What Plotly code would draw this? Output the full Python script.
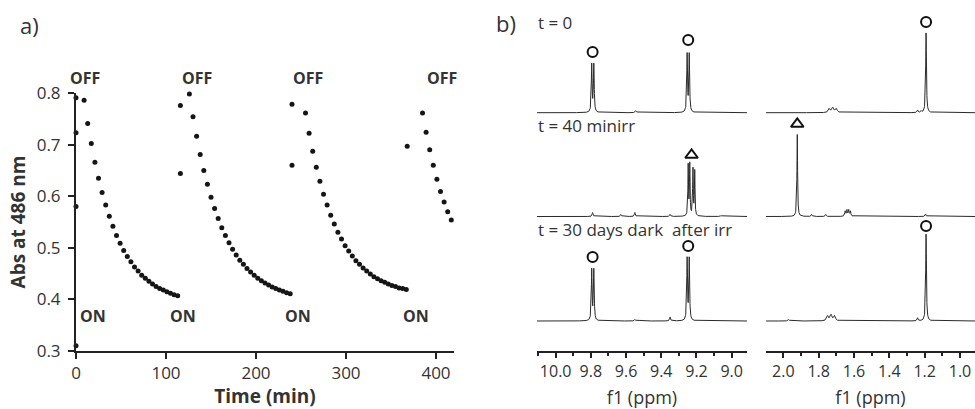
import numpy as np
import plotly.graph_objects as go

# ---------------- Panel a: absorbance at 486 nm vs time ----------------
c1_t = [0, 0, 0, 0, 9, 13, 17, 21, 25, 29, 33, 37, 41, 45, 49, 53, 57, 61, 65, 69,
        73, 77, 81, 85, 89, 93, 97, 101, 105, 109, 113]
c1_a = [0.791, 0.723, 0.580, 0.310, 0.786, 0.741, 0.702, 0.666, 0.635, 0.607, 0.583,
        0.561, 0.542, 0.524, 0.509, 0.495, 0.483, 0.473, 0.463, 0.455, 0.447, 0.441,
        0.435, 0.430, 0.425, 0.421, 0.418, 0.415, 0.412, 0.409, 0.407]
c2_t = [116, 116, 126, 130, 134, 138, 142, 146, 150, 154, 158, 162, 166, 170, 174, 178,
        182, 186, 190, 194, 198, 202, 206, 210, 214, 218, 222, 226, 230, 234, 238]
c2_a = [0.776, 0.644, 0.798, 0.754, 0.716, 0.681, 0.650, 0.623, 0.598, 0.576, 0.557,
        0.539, 0.524, 0.510, 0.497, 0.486, 0.476, 0.468, 0.460, 0.453, 0.447, 0.441,
        0.436, 0.432, 0.428, 0.424, 0.421, 0.418, 0.416, 0.413, 0.411]
c3_t = [240, 240, 255, 259, 263, 267, 271, 275, 279, 283, 287, 291, 295, 299, 303, 307,
        311, 315, 319, 323, 327, 331, 335, 339, 343, 347, 351, 355, 359, 363, 367]
c3_a = [0.778, 0.660, 0.761, 0.722, 0.687, 0.656, 0.629, 0.604, 0.583, 0.563, 0.546,
        0.530, 0.517, 0.504, 0.494, 0.484, 0.475, 0.468, 0.461, 0.455, 0.449, 0.444,
        0.440, 0.436, 0.433, 0.430, 0.427, 0.425, 0.422, 0.421, 0.419]
c4_t = [368, 385, 389, 393, 397, 401, 405, 409, 413, 417]
c4_a = [0.697, 0.761, 0.724, 0.690, 0.660, 0.633, 0.609, 0.589, 0.570, 0.554]

x_ticks_a = [0, 100, 200, 300, 400]
y_ticks_a = [0.3, 0.4, 0.5, 0.6, 0.7, 0.8]

off_labels_t = [10, 134, 258, 407]
on_labels_t = [19, 119, 247, 378]

# ---------------- Panel b: 1H NMR spectra (peak tables) ----------------
# (ppm, height, half width) ; heights in stacked-plot units
t0_left = [(9.795, 48, 0.0025), (9.783, 48, 0.0025), (9.253, 58, 0.0025),
           (9.241, 58, 0.0025), (9.545, 2, 0.004)]
t40_left = [(9.247, 51, 0.002), (9.238, 52, 0.002), (9.220, 47, 0.002),
            (9.210, 45, 0.002), (9.79, 4, 0.003), (9.63, 2, 0.003),
            (9.55, 4, 0.003), (9.35, 2, 0.003), (9.06, 1, 0.004)]
t30_left = [(9.795, 51, 0.0025), (9.783, 51, 0.0025), (9.253, 62, 0.0025),
            (9.241, 62, 0.0025), (9.35, 4, 0.003), (9.55, 1.5, 0.004)]
t0_right = [(1.192, 80, 0.0025), (1.74, 4, 0.006), (1.72, 5, 0.006),
            (1.70, 4, 0.006), (1.24, 2.5, 0.003), (1.22, 1.5, 0.003)]
t40_right = [(1.921, 82, 0.0022), (1.84, 2, 0.003), (1.76, 2, 0.003),
             (1.650, 5, 0.003), (1.640, 6, 0.003), (1.630, 6, 0.003),
             (1.620, 5, 0.003), (1.195, 2.5, 0.003)]
t30_right = [(1.192, 87, 0.0025), (1.75, 5, 0.006), (1.73, 6, 0.006),
             (1.71, 5, 0.006), (1.24, 3, 0.003), (1.97, 1.5, 0.004)]
spectrum_offsets = [238.3, 134.5, 30.0]  # t = 0, t = 40 min irr, t = 30 days

left_ticks = [10.0, 9.8, 9.6, 9.4, 9.2, 9.0]
right_ticks = [2.0, 1.8, 1.6, 1.4, 1.2, 1.0]

# peak markers: (axis, ppm, height, symbol)
peak_marks = [("x2", 9.79, 299, "circle-open"), ("x2", 9.247, 311, "circle-open"),
              ("x3", 1.192, 329, "circle-open"),
              ("x2", 9.228, 196, "triangle-up-open"), ("x3", 1.921, 227, "triangle-up-open"),
              ("x2", 9.79, 94, "circle-open"), ("x2", 9.247, 105, "circle-open"),
              ("x3", 1.192, 125, "circle-open")]

FONT = "Open Sans, Liberation Sans, sans-serif"
TXT = "#333333"
AX = "#222222"
W, H = 975, 409


def px_x(p):
    return p / W


def px_y(p):
    return (H - p) / H


def spectrum(grid, peaks, offset):
    y = np.full_like(grid, offset)
    for p, h, g in peaks:
        y += h * g * g / ((grid - p) ** 2 + g * g)
    return y


fig = go.Figure()

for t, a in [(c1_t, c1_a), (c2_t, c2_a), (c3_t, c3_a), (c4_t, c4_a)]:
    fig.add_trace(go.Scatter(x=t, y=a, mode="markers", xaxis="x", yaxis="y",
                             marker=dict(size=5, color="#151515"),
                             cliponaxis=False, showlegend=False, hoverinfo="x+y"))

grid_l = np.linspace(8.913, 10.106, 2400)
grid_r = np.linspace(0.915, 2.098, 2400)
for peaks, off in zip([t0_left, t40_left, t30_left], spectrum_offsets):
    fig.add_trace(go.Scatter(x=grid_l, y=spectrum(grid_l, peaks, off), mode="lines",
                             xaxis="x2", yaxis="y2", line=dict(color="#2a2a2a", width=1),
                             showlegend=False, hoverinfo="skip"))
for peaks, off in zip([t0_right, t40_right, t30_right], spectrum_offsets):
    fig.add_trace(go.Scatter(x=grid_r, y=spectrum(grid_r, peaks, off), mode="lines",
                             xaxis="x3", yaxis="y3", line=dict(color="#2a2a2a", width=1),
                             showlegend=False, hoverinfo="skip"))

for ax, ppm, hgt, sym in peak_marks:
    fig.add_trace(go.Scatter(x=[ppm], y=[hgt], mode="markers", xaxis=ax,
                             yaxis="y2" if ax == "x2" else "y3",
                             marker=dict(symbol=sym, size=10 if "circle" in sym else 11,
                                         color="#111111", line=dict(width=2, color="#111111")),
                             cliponaxis=False, showlegend=False, hoverinfo="skip"))

common_x = dict(showline=True, linecolor=AX, linewidth=2, ticks="outside", tickcolor=AX,
                tickwidth=1.5, showgrid=False, zeroline=False, automargin=False,
                tickfont=dict(family=FONT, size=16, color=TXT))

fig.update_layout(
    template="none",
    width=W, height=H, margin=dict(l=0, r=0, t=0, b=0, autoexpand=False),
    paper_bgcolor="white", plot_bgcolor="white",
    xaxis=dict(domain=[px_x(76), px_x(454)], range=[0, 420], anchor="y",
               tickvals=x_ticks_a, ticklen=6, ticklabelstandoff=0,
               title=dict(text="<b>Time (min)</b>", standoff=9,
                          font=dict(family=FONT, size=19, color=TXT)),
               **{k: v for k, v in common_x.items() if k != "tickfont"},
               tickfont=dict(family=FONT, size=17, color=TXT)),
    yaxis=dict(domain=[px_y(351), px_y(93)], range=[0.3, 0.8], anchor="x",
               tickvals=y_ticks_a, tickformat=".1f", ticks="outside", ticklen=6,
               tickcolor=AX, tickwidth=1.5, showline=True, linecolor=AX, linewidth=2,
               showgrid=False, zeroline=False, ticklabelstandoff=4, automargin=False,
               tickfont=dict(family=FONT, size=17, color=TXT),
               title=dict(text="<b>Abs at 486 nm</b>", standoff=6,
                          font=dict(family=FONT, size=19, color=TXT))),
    xaxis2=dict(domain=[px_x(537), px_x(747)], range=[10.106, 8.913], anchor="y2",
                tickvals=left_ticks, tickformat=".1f", ticklen=5, ticklabelstandoff=0,
                minor=dict(ticks="outside", ticklen=3, tickcolor=AX, dtick=0.1, tick0=0),
                title=dict(text="f1 (ppm)", standoff=11, font=dict(family=FONT, size=18, color=TXT)),
                **common_x),
    yaxis2=dict(domain=[px_y(351), px_y(10)], range=[0, 341], anchor="x2", visible=False),
    xaxis3=dict(domain=[px_x(766), 1.0], range=[2.098, 0.915], anchor="y3",
                tickvals=right_ticks, tickformat=".1f", ticklen=5, ticklabelstandoff=0,
                minor=dict(ticks="outside", ticklen=3, tickcolor=AX, dtick=0.1, tick0=0),
                title=dict(text="f1 (ppm)", standoff=11, font=dict(family=FONT, size=18, color=TXT)),
                **common_x),
    yaxis3=dict(domain=[px_y(351), px_y(10)], range=[0, 341], anchor="x3", visible=False),
)

ann = []
for t in off_labels_t:
    ann.append(dict(x=t, y=px_y(78), xref="x", yref="paper", text="<b>OFF</b>",
                    showarrow=False, yanchor="middle",
                    font=dict(family=FONT, size=16, color=TXT)))
for t in on_labels_t:
    ann.append(dict(x=t, y=px_y(316), xref="x", yref="paper", text="<b>ON</b>",
                    showarrow=False, yanchor="middle",
                    font=dict(family=FONT, size=16, color=TXT)))
ann.append(dict(x=px_x(18), y=px_y(25), xref="paper", yref="paper", text="a)",
                showarrow=False, xanchor="left", yanchor="middle",
                font=dict(family=FONT, size=22, color=TXT)))
ann.append(dict(x=px_x(494), y=px_y(23), xref="paper", yref="paper", text="b)",
                showarrow=False, xanchor="left", yanchor="middle",
                font=dict(family=FONT, size=22, color=TXT)))
for txt, yy in [("t = 0", 22), ("t = 40 minirr", 126),
                ("t = 30 days dark\u00a0 after irr", 229)]:
    ann.append(dict(x=px_x(536), y=px_y(yy), xref="paper", yref="paper", text=txt,
                    showarrow=False, xanchor="left", yanchor="middle",
                    font=dict(family=FONT, size=17, color=TXT)))
fig.update_layout(annotations=ann)

fig.write_html("out.html")
